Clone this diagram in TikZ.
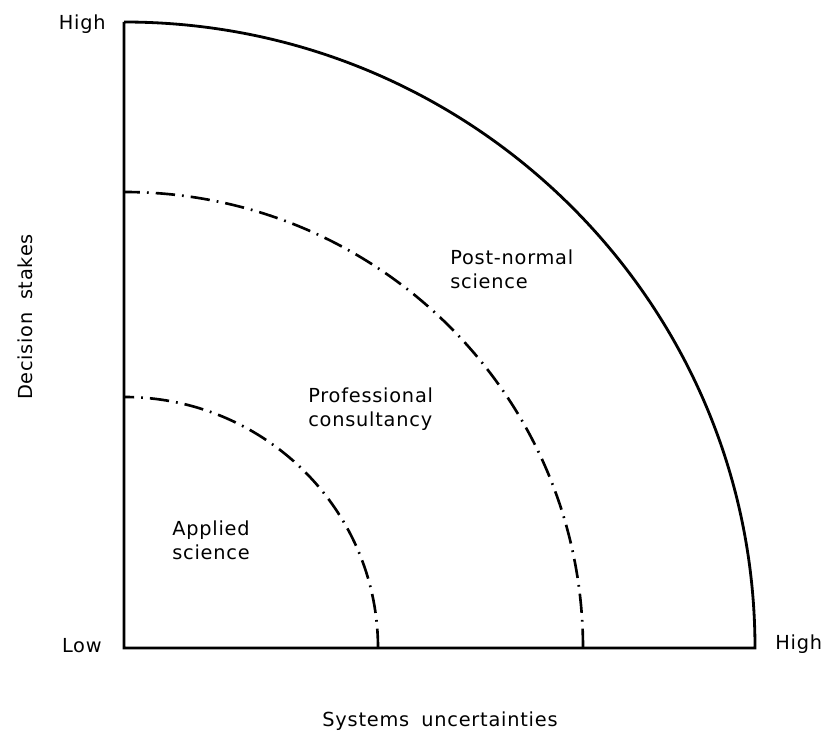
\documentclass[tikz,border=0pt]{standalone}
\usepackage{fontspec}
\setmainfont[LetterSpace=4]{DejaVu Sans}

\begin{document}
\begin{tikzpicture}[x=0.02cm,y=0.02cm,
  lbl/.style={font=\fontsize{11}{14}\selectfont,inner sep=0pt},
  zone/.style={lbl,align=left,anchor=north west},
  axis/.style={line width=1.6pt,line join=miter},
  bound/.style={line width=1.5pt,dash pattern=on 11pt off 4pt on 1pt off 4pt}]

\useasboundingbox (0,0) rectangle (826,731);

\coordinate (O) at (124,83);
\coordinate (T) at (124,709);
\coordinate (R) at (755,83);
\coordinate (M) at (583,83);
\coordinate (S) at (378,83);

% axes and outer limit
\draw[axis] (T) -- (O) -- (R) arc[start angle=0,end angle=90,x radius=631,y radius=626];

% inner limits
\draw[bound] (M) arc[start angle=0,end angle=90,x radius=459,y radius=456];
\draw[bound] (S) arc[start angle=0,end angle=90,x radius=254,y radius=251];

\node[lbl,anchor=base east] (hiY) at (106,701) {High};
\node[lbl,anchor=base east] (loO) at (102,78) {Low};
\node[lbl,anchor=base west] (hiX) at (775,81) {High};

\node[lbl,rotate=90] (ylab) at (25,414) {Decision\hspace{3pt} stakes};
\node[lbl,anchor=base] (xlab) at (440,4) {Systems\hspace{3pt} uncertainties};

\node[zone] (pns) at (450,482) {Post-normal\\science};
\node[zone] (pc) at (308,344) {Professional\\consultancy};
\node[zone] (as) at (172,211) {Applied\\science};

\end{tikzpicture}
\end{document}
